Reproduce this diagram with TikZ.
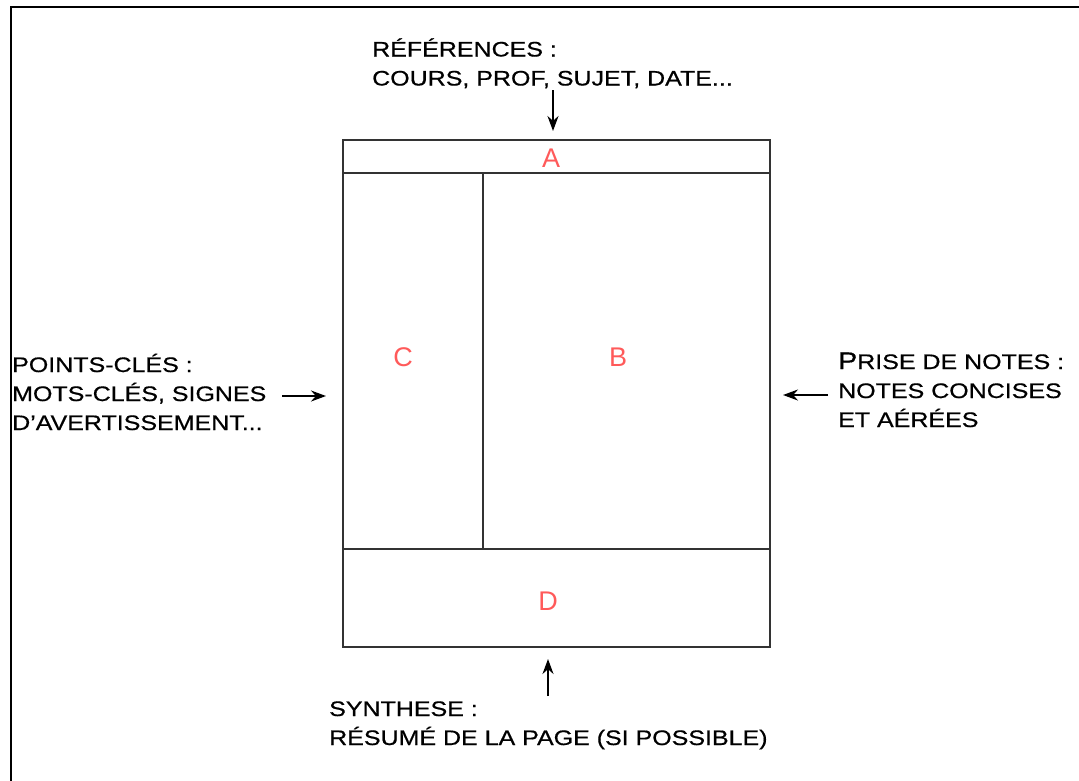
\documentclass[tikz,border=0pt]{standalone}
\usepackage{fontspec}
\setmainfont{Liberation Sans}
\newfontfamily\labelfont[FakeStretch=1.19,FakeBold=0.6]{Liberation Sans}
\usetikzlibrary{arrows.meta}
\definecolor{boxgray}{HTML}{333333}
\definecolor{lettred}{HTML}{FF5A5A}
\tikzset{
  frameline/.style={line width=2.2pt, draw=black},
  boxline/.style={line width=2.2pt, draw=boxgray},
  lbl/.style={font=\labelfont\fontsize{21}{29}\selectfont, align=left, inner sep=0pt, anchor=base west},
  letter/.style={text=lettred, font=\fontsize{27}{27}\selectfont, inner sep=0pt},
  arr/.style={-{Stealth[length=15pt,width=11pt]}, line width=1.8pt}
}
\begin{document}
\begin{tikzpicture}[x=1pt,y=-1pt]
\useasboundingbox (0,0) rectangle (1079,780);
% outer frame (cut off at right and bottom)
\draw[frameline] (11,790) -- (11,6.7) -- (1090,6.7);
% main page
\draw[boxline] (342.7,140) rectangle (770,647);
\draw[boxline] (342.7,172.7) -- (770,172.7);
\draw[boxline] (342.7,549) -- (770,549);
\draw[boxline] (483,172.7) -- (483,549);
% zone letters
\node[letter] (A) at (551,158) {A};
\node[letter] (B) at (618,357) {B};
\node[letter] (C) at (403,357) {C};
\node[letter] (D) at (548,601) {D};
% labels (anchored at the baseline of their last line)
\node[lbl] (ref) at (372,85.5) {RÉFÉRENCES :\\COURS, PROF, SUJET, DATE...};
\node[lbl] (pts) at (12,430) {POINTS-CLÉS :\\MOTS-CLÉS, SIGNES\\D’AVERTISSEMENT...};
\node[lbl] (prise) at (838,427) {{\fontsize{24}{29}\selectfont P}RISE DE NOTES :\\NOTES CONCISES\\ET AÉRÉES};
\node[lbl] (syn) at (329,745) {SYNTHESE :\\RÉSUMÉ DE LA PAGE (SI POSSIBLE)};
% arrow ends
\coordinate (refS) at (553,90);
\coordinate (Atop) at (553,131);
\coordinate (ptsE) at (282,396);
\coordinate (Cleft) at (326,396);
\coordinate (priseW) at (828,395);
\coordinate (Bright) at (783,395);
\coordinate (synN) at (548,696);
\coordinate (Dbot) at (548,659);
\draw[arr] (refS) -- (Atop);
\draw[arr] (ptsE) -- (Cleft);
\draw[arr] (priseW) -- (Bright);
\draw[arr] (synN) -- (Dbot);
\end{tikzpicture}
\end{document}
